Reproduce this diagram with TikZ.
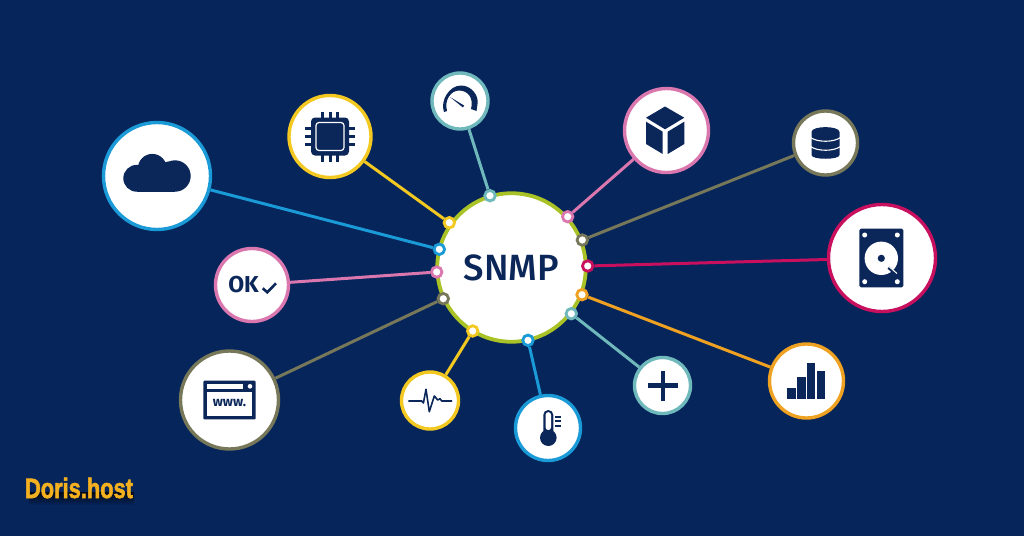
\documentclass[tikz,border=0pt]{standalone}
\usepackage{fontspec}
\usetikzlibrary{fadings}
\setmainfont{Fira Sans}
\newfontfamily\labelfont{Fira Sans Medium}
\newfontfamily\logofont[FakeBold=2.2]{Liberation Sans Bold}
\definecolor{bgblue}{HTML}{06255B}
\definecolor{navy}{HTML}{0B2658}
\definecolor{sky}{HTML}{1A9AD6}
\definecolor{sun}{HTML}{F3C921}
\definecolor{teal}{HTML}{6FB9BC}
\definecolor{rose}{HTML}{D977AE}
\definecolor{olive}{HTML}{77785A}
\definecolor{berry}{HTML}{C8105F}
\definecolor{amber}{HTML}{EFA222}
\definecolor{lime}{HTML}{A9C226}
\definecolor{gold}{HTML}{F4B01E}
\tikzset{
    hub/.style={circle, draw=#1, fill=white, line width=3.4pt, inner sep=0pt}, % Satellite circles
    port/.style={circle, draw=#1, fill=white, line width=2.8pt, inner sep=0pt, minimum size=10.5pt}, % Dots on the ring
    link/.style={draw=#1, line width=3pt},
    icon/.style={fill=navy, draw=none},
    cloudicon/.pic={
        \fill[icon] (-20.3,2.3) circle (13.4);
        \fill[icon] (-4.7,-7.7) circle (14.4);
        \fill[icon] (11.3,-6) circle (8.5);
        \fill[icon] (18,0) circle (15.7);
        \fill[icon] (-20.3,2) rectangle (18,15.7);
    },
    chipicon/.pic={
        \foreach \p in {-7.7,0,7.7} {
            \draw[navy, line width=3pt] (\p,-25) -- (\p,25);
            \draw[navy, line width=3pt] (-25,\p) -- (25,\p);
        }
        \fill[navy, rounded corners=4pt] (-19,-19) rectangle (19,19);
        \draw[white, line width=1.2pt, rounded corners=3pt] (-14,-14) rectangle (14,14);
    },
    gaugeicon/.pic={
        \fill[icon] (-16,11) .. controls (-20,0) and (-11,-15.5) .. (1,-15.5)
            .. controls (11,-15.5) and (19,-6) .. (17.5,3) -- (16.5,10) -- (11,8)
            .. controls (14,-3) and (8,-10.5) .. (-1,-10.5)
            .. controls (-9,-10.5) and (-16,-1) .. (-13,10) -- cycle;
        \fill[icon] (-10,-4) -- (4.2,4.6) -- (2.8,6.4) -- cycle;
    },
    okicon/.pic={
        \node[text=navy, font=\fontsize{23}{23}\selectfont\bfseries, inner sep=0pt] (oklabel) at (-8.5,-0.4) {OK};
        \draw[navy, line width=2.6pt] (10.7,3.3) -- (15.3,7.3) -- (24,-1.7);
    },
    cubeicon/.pic={
        \fill[icon] (-1.5,-24) -- (17.8,-12.8) -- (-1.5,-1.2) -- (-20.5,-12.8) -- cycle;
        \fill[icon] (-20.5,-8.8) -- (-3.8,1.2) -- (-3.8,23.5) -- (-20.5,13.5) -- cycle;
        \fill[icon] (17.8,-8.8) -- (1.2,1.2) -- (1.2,23.5) -- (17.8,13.5) -- cycle;
    },
    dbicon/.pic={
        \fill[icon] (-14,-11) .. controls (-14,-17.5) and (14,-17.5) .. (14,-11) -- (14,12)
            .. controls (14,17) and (-14,17) .. (-14,12) -- cycle;
        \draw[white, line width=1.1pt] (-15,-5.5) .. controls (-8,-0.5) and (8,-0.5) .. (15,-5.5);
        \draw[white, line width=1.1pt] (-15,3.5) .. controls (-8,8.5) and (8,8.5) .. (15,3.5);
    },
    hddicon/.pic={
        \fill[navy, rounded corners=1.5pt] (-22.7,-29.3) rectangle (21.3,29.3);
        \foreach \p/\q in {-17.3/-23, 15.3/-23, -17.3/23.7, 15.3/23.7}
            \fill[white] (\p,\q) circle (2.5);
        \fill[white] (-0.7,0.3) circle (16.7);
        \fill[navy] (-0.7,0.3) circle (3.6);
        \draw[navy, line width=3pt] (6.5,9.5) -- (11.5,14);
        \draw[white, line width=1pt] (4,6) -- (15,15.5);
    },
    barsicon/.pic={
        \fill[icon] (-19.2,7.3) rectangle (-10.8,18);
        \fill[icon] (-9.2,-3.7) rectangle (-0.8,18);
        \fill[icon] (0.8,-17.7) rectangle (8.8,18);
        \fill[icon] (10.8,-10) rectangle (18.8,18);
    },
    plusicon/.pic={
        \draw[navy, line width=4.6pt] (-15,0.2) -- (15.6,0.2);
        \draw[navy, line width=4.6pt] (0.4,-15) -- (0.4,15.2);
    },
    thermoicon/.pic={
        \fill[navy, rounded corners=4.9pt] (-4.7,-18) rectangle (5.3,14);
        \fill[icon] (0.3,9.7) circle (8.3);
        \fill[white, rounded corners=2.6pt] (-2.4,-15.8) rectangle (3,2);
        \foreach \q in {-11.3,-7,-2}
            \draw[navy, line width=1.6pt] (7,\q) -- (12.7,\q);
    },
    pulseicon/.pic={
        \draw[navy, line width=1.6pt, line join=round] (-21.7,0.5) -- (-8.3,0.5) -- (-6.6,2.5) -- (-4,-11.2)
            -- (-0.7,11.2) -- (4.3,-4.5) -- (7.7,-0.5) -- (10,-1.8) -- (11.7,0.5) -- (22,0.5);
    },
    wwwicon/.pic={
        \fill[navy, rounded corners=1pt] (-26.2,-19.3) rectangle (26.2,19.3);
        \fill[white] (-22.8,-16) rectangle (13.8,-11);
        \fill[white] (20.5,-13.7) circle (2.3);
        \fill[white] (-22.8,-7.7) rectangle (22.8,16);
        \node[text=navy, font=\fontsize{13.5}{14}\selectfont\bfseries, inner sep=0pt] (wwwlabel) at (0,3.2) {www.};
    },
}

\begin{document}
\begin{tikzpicture}[x=1pt, y=-1pt]
    \path[use as bounding box, fill=bgblue] (0,0) rectangle (1024,536);

    % centre
    \node[hub=lime, line width=3.8pt, minimum size=148.5pt, text=navy, font=\labelfont\fontsize{36.5}{36.5}\selectfont] (snmp) at (511.5,267.5) {SNMP};

    % ports on the ring
    \node[port=teal] (p1) at (490,195.7) {};
    \node[port=sun] (p2) at (449.3,222.7) {};
    \node[port=sky] (p3) at (439.3,249.3) {};
    \node[port=rose] (p4) at (436.7,272) {};
    \node[port=olive] (p5) at (443.3,298.7) {};
    \node[port=sun] (p6) at (472.7,331) {};
    \node[port=sky] (p7) at (528,340.3) {};
    \node[port=teal] (p8) at (571.3,313.7) {};
    \node[port=amber] (p9) at (582,294.7) {};
    \node[port=berry] (p10) at (587.7,266) {};
    \node[port=olive] (p11) at (582.3,240) {};
    \node[port=rose] (p12) at (567.7,216.7) {};

    % satellites
    \node[hub=teal, minimum size=56pt] (gauge) at (460,101) {};
    \node[hub=sun, minimum size=82pt] (chip) at (330,136.5) {};
    \node[hub=sky, minimum size=107pt] (cloud) at (157,176) {};
    \node[hub=rose, minimum size=73pt] (ok) at (252,285) {};
    \node[hub=olive, minimum size=98pt] (www) at (229.5,400) {};
    \node[hub=sun, minimum size=57pt] (pulse) at (430,400.5) {};
    \node[hub=sky, minimum size=65pt] (thermo) at (548,428) {};
    \node[hub=teal, minimum size=56pt] (plus) at (662.5,385.5) {};
    \node[hub=amber, minimum size=74pt] (bars) at (806.5,381) {};
    \node[hub=berry, minimum size=107pt] (hdd) at (882,258) {};
    \node[hub=olive, minimum size=64pt] (db) at (825.5,143) {};
    \node[hub=rose, minimum size=84pt] (cube) at (666.5,130.5) {};

    \path
        (gauge) edge [link=teal] (p1)
        (chip) edge [link=sun] (p2)
        (cloud) edge [link=sky] (p3)
        (ok) edge [link=rose] (p4)
        (www) edge [link=olive] (p5)
        (pulse) edge [link=sun] (p6)
        (thermo) edge [link=sky] (p7)
        (plus) edge [link=teal] (p8)
        (bars) edge [link=amber] (p9)
        (hdd) edge [link=berry] (p10)
        (db) edge [link=olive] (p11)
        (cube) edge [link=rose] (p12);

    % icons
    \pic at (gauge) {gaugeicon};
    \pic at (chip) {chipicon};
    \pic at (cloud) {cloudicon};
    \pic at (ok) {okicon};
    \pic at (www) {wwwicon};
    \pic at (pulse) {pulseicon};
    \pic at (thermo) {thermoicon};
    \pic at (plus) {plusicon};
    \pic at (bars) {barsicon};
    \pic at (hdd) {hddicon};
    \pic at (db) {dbicon};
    \pic at (cube) {cubeicon};

    % logo
    \fill[black, path fading=south, opacity=.75] (29,492) rectangle (134,505);
    \node[text=gold, font=\logofont\fontsize{28}{28}\selectfont, xscale=.78, transform shape, inner sep=0pt] (logo) at (79,488) {Doris.host};
\end{tikzpicture}
\end{document}
